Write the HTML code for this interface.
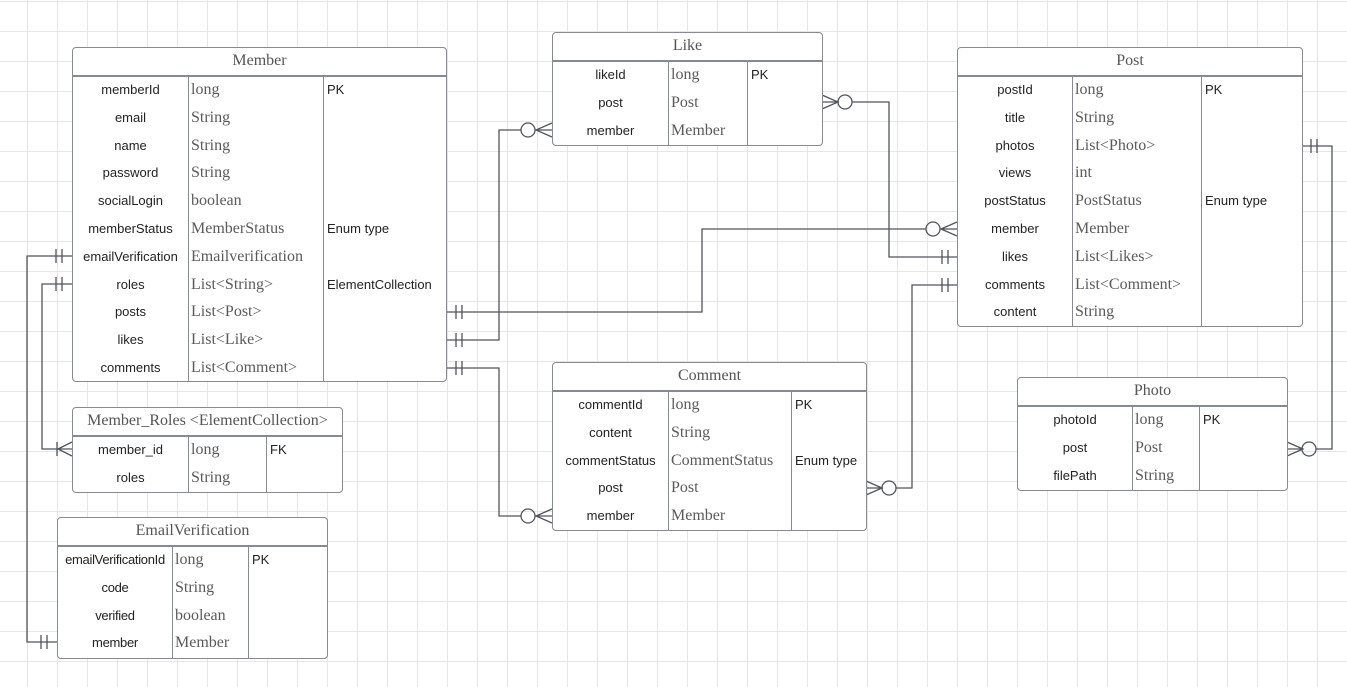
<!DOCTYPE html>
<html><head><meta charset="utf-8"><style>
body{margin:0;width:1347px;height:687px;overflow:hidden;background:#fff;position:relative;
background-image:linear-gradient(#e6e6e6 1px,transparent 1px),linear-gradient(90deg,#e6e6e6 1px,transparent 1px);
background-size:30px 30px;background-position:27px 1px;}
.t{position:absolute;border:1.5px solid #858a93;border-radius:4px;background:#fff;box-sizing:border-box;}
.h{height:27px;border-bottom:2px solid #858a93;text-align:center;font:16px/26px "Liberation Serif",serif;color:#555;}
.b{display:flex;position:absolute;left:0;right:0;top:28px;bottom:0}
.c{box-sizing:border-box;}
.c+.c{border-left:1.5px solid #858a93}
.n{text-align:center;font:13px/27.8px "Liberation Sans",sans-serif;color:#222;white-space:nowrap}
.y{padding-left:2px;font:16px/27.8px "Liberation Serif",serif;color:#5a5a5a;white-space:nowrap}
.k{padding-left:3px;font:13px/27.8px "Liberation Sans",sans-serif;color:#222;white-space:nowrap}
svg{position:absolute;left:0;top:0}
</style></head><body>
<svg width="1347" height="687" fill="none" stroke="#50555c" stroke-width="1.3">
<path d="M57 642H27V256H72"/>
<path d="M41 635v14M47 635v14M56 249v14M62 249v14"/>
<path d="M72 449H42V284H72"/>
<path d="M56 277v14M62 277v14"/>
<path d="M72 442L58 449L72 456M57 442v14"/>
<path d="M446 312H702V229H926"/>
<circle cx="933" cy="229" r="7"/>
<path d="M957 222L941 229L957 236M941 229H957"/>
<path d="M456 305v14M462 305v14"/>
<path d="M446 340H499V130H521"/>
<circle cx="528" cy="130" r="7"/>
<path d="M552 123L536 130L552 137M535 130H552"/>
<path d="M456 333v14M462 333v14"/>
<path d="M446 368H499V516H521"/>
<circle cx="528" cy="516" r="7"/>
<path d="M552 509L536 516L552 523M535 516H552"/>
<path d="M456 361v14M462 361v14"/>
<path d="M822 95L838 102L822 109M822 102H838"/>
<circle cx="845" cy="102" r="7"/>
<path d="M852 102H889V257H957"/>
<path d="M942 250v14M948 250v14"/>
<path d="M866 481L882 488L866 495M866 488H882"/>
<circle cx="889" cy="488" r="7"/>
<path d="M896 488H912V285H957"/>
<path d="M942 278v14M948 278v14"/>
<path d="M1302 146H1332V449H1316"/>
<circle cx="1309" cy="449" r="7"/>
<path d="M1287 442L1303 449L1287 456M1287 449H1302"/>
<path d="M1311 139v14M1317 139v14"/>
</svg>

<div class="t" style="left:72px;top:47px;width:375px;height:335px">
<div class="h">Member</div>
<div class="b">
<div class="c n" style="width:115px">memberId<br>email<br>name<br>password<br>socialLogin<br>memberStatus<br>emailVerification<br>roles<br>posts<br>likes<br>comments</div>
<div class="c y" style="width:135px">long<br>String<br>String<br>String<br>boolean<br>MemberStatus<br>Emailverification<br>List&lt;String&gt;<br>List&lt;Post&gt;<br>List&lt;Like&gt;<br>List&lt;Comment&gt;</div>
<div class="c k" style="flex:1">PK<br><br><br><br><br>Enum type<br><br>ElementCollection</div>
</div></div>

<div class="t" style="left:552px;top:32px;width:271px;height:114px">
<div class="h">Like</div>
<div class="b">
<div class="c n" style="width:115px">likeId<br>post<br>member</div>
<div class="c y" style="width:79px">long<br>Post<br>Member</div>
<div class="c k" style="flex:1">PK</div>
</div></div>

<div class="t" style="left:957px;top:47px;width:346px;height:280px">
<div class="h">Post</div>
<div class="b">
<div class="c n" style="width:114px">postId<br>title<br>photos<br>views<br>postStatus<br>member<br>likes<br>comments<br>content</div>
<div class="c y" style="width:129px">long<br>String<br>List&lt;Photo&gt;<br>int<br>PostStatus<br>Member<br>List&lt;Likes&gt;<br>List&lt;Comment&gt;<br>String</div>
<div class="c k" style="flex:1">PK<br><br><br><br>Enum type</div>
</div></div>

<div class="t" style="left:552px;top:362px;width:315px;height:169px">
<div class="h">Comment</div>
<div class="b">
<div class="c n" style="width:115px">commentId<br>content<br>commentStatus<br>post<br>member</div>
<div class="c y" style="width:123px">long<br>String<br>CommentStatus<br>Post<br>Member</div>
<div class="c k" style="flex:1">PK<br><br>Enum type</div>
</div></div>

<div class="t" style="left:1017px;top:377px;width:271px;height:114px">
<div class="h">Photo</div>
<div class="b">
<div class="c n" style="width:114px">photoId<br>post<br>filePath</div>
<div class="c y" style="width:67px">long<br>Post<br>String</div>
<div class="c k" style="flex:1">PK</div>
</div></div>

<div class="t" style="left:72px;top:407px;width:271px;height:86px">
<div class="h">Member_Roles &lt;ElementCollection&gt;</div>
<div class="b">
<div class="c n" style="width:115px">member_id<br>roles</div>
<div class="c y" style="width:78px">long<br>String</div>
<div class="c k" style="flex:1">FK</div>
</div></div>

<div class="t" style="left:57px;top:517px;width:271px;height:142px">
<div class="h">EmailVerification</div>
<div class="b">
<div class="c n" style="width:114px;letter-spacing:-0.3px">emailVerificationId<br>code<br>verified<br>member</div>
<div class="c y" style="width:76px">long<br>String<br>boolean<br>Member</div>
<div class="c k" style="flex:1">PK</div>
</div></div>
</body></html>
